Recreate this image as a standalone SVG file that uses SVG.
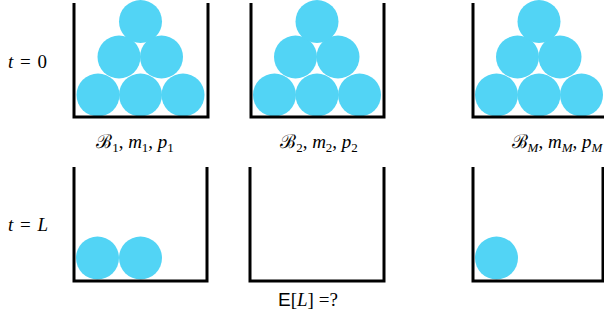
<svg xmlns="http://www.w3.org/2000/svg" width="604" height="328" viewBox="0 0 604 328">
<style>
.wall{fill:none;stroke:#000;stroke-width:3;stroke-linejoin:miter}
.ball{fill:#52d4f5}
.m{font-family:"Liberation Serif","DejaVu Serif",serif;font-size:19px;fill:#000}
.i{font-style:italic}
.s{font-size:13px}
.sf{font-family:"Liberation Sans","DejaVu Sans",sans-serif}
</style>
<rect width="604" height="328" fill="#fff"/>
<g id="label-t0"><text class="m" x="8" y="68" word-spacing="2"><tspan class="i">t</tspan> = 0</text></g>
<g id="label-tL"><text class="m" x="8" y="231" word-spacing="2"><tspan class="i">t</tspan> = <tspan class="i">L</tspan></text></g>

<g id="bucket1-t0">
<g class="ball">
<circle cx="98" cy="95" r="21.5"/><circle cx="140.5" cy="95" r="21.5"/><circle cx="183" cy="95" r="21.5"/>
<circle cx="119" cy="57" r="21.5"/><circle cx="161.5" cy="57" r="21.5"/>
<circle cx="140.5" cy="21.5" r="21.5"/>
</g>
<path class="wall" d="M74,3 V117 H208 V3"/>
<text class="m" x="135" y="148" text-anchor="middle"><tspan>ℬ</tspan><tspan class="s" dy="4">1</tspan><tspan dy="-4">, </tspan><tspan class="i">m</tspan><tspan class="s" dy="4">1</tspan><tspan dy="-4">, </tspan><tspan class="i">p</tspan><tspan class="s" dy="4">1</tspan></text>
</g>

<g id="bucket2-t0">
<g class="ball">
<circle cx="274.5" cy="95" r="21.5"/><circle cx="317" cy="95" r="21.5"/><circle cx="359.5" cy="95" r="21.5"/>
<circle cx="295.5" cy="57" r="21.5"/><circle cx="338" cy="57" r="21.5"/>
<circle cx="317" cy="21.5" r="21.5"/>
</g>
<path class="wall" d="M251,3 V117 H384 V3"/>
<text class="m" x="319" y="148" text-anchor="middle"><tspan>ℬ</tspan><tspan class="s" dy="4">2</tspan><tspan dy="-4">, </tspan><tspan class="i">m</tspan><tspan class="s" dy="4">2</tspan><tspan dy="-4">, </tspan><tspan class="i">p</tspan><tspan class="s" dy="4">2</tspan></text>
</g>

<g id="bucketM-t0">
<g class="ball">
<circle cx="496.5" cy="95" r="21.5"/><circle cx="539" cy="95" r="21.5"/><circle cx="581.5" cy="95" r="21.5"/>
<circle cx="517.5" cy="57" r="21.5"/><circle cx="560" cy="57" r="21.5"/>
<circle cx="539" cy="21.5" r="21.5"/>
</g>
<path class="wall" d="M473,3 V117 H605"/>
<text class="m" x="557" y="148" text-anchor="middle"><tspan>ℬ</tspan><tspan class="s i" dy="4">M</tspan><tspan dy="-4">, </tspan><tspan class="i">m</tspan><tspan class="s i" dy="4">M</tspan><tspan dy="-4">, </tspan><tspan class="i">p</tspan><tspan class="s i" dy="4">M</tspan></text>
</g>

<g id="bucket1-tL">
<g class="ball">
<circle cx="97.5" cy="258" r="21.5"/><circle cx="140.5" cy="258" r="21.5"/>
</g>
<path class="wall" d="M74,167 V281 H207 V167"/>
</g>

<g id="bucket2-tL">
<path class="wall" d="M250,167 V281 H384 V167"/>
</g>

<g id="bucketM-tL">
<g class="ball">
<circle cx="496.5" cy="258" r="21.5"/>
</g>
<path class="wall" d="M473,167 V281 H603 V167"/>
</g>

<g id="label-EL"><text class="m" x="278" y="306"><tspan class="sf">E</tspan>[<tspan class="i">L</tspan>] =?</text></g>
</svg>
